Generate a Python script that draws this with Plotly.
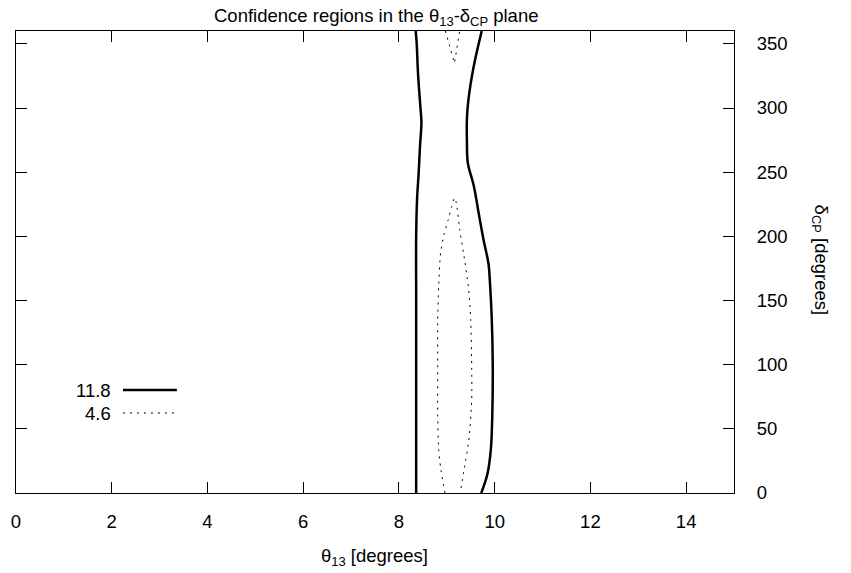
import plotly.graph_objects as go

# 11.8 contour (solid) - left and right boundaries
solid_left_delta = [0, 50, 100, 150, 200, 230, 248, 270, 289, 300, 326, 351, 360]
solid_left_theta = [8.36, 8.36, 8.36, 8.36, 8.36, 8.38, 8.41, 8.44, 8.47, 8.45, 8.40, 8.37, 8.35]
solid_right_delta = [0, 15, 34, 60, 100, 135, 165, 179, 195, 213, 240, 257, 275, 291, 306, 332, 360]
solid_right_theta = [9.72, 9.85, 9.92, 9.95, 9.96, 9.94, 9.90, 9.87, 9.78, 9.69, 9.56, 9.44, 9.42, 9.42, 9.45, 9.56, 9.73]

# 4.6 contour (dotted) - lower closed region and upper wedge
dot_low_theta = [8.96, 8.87, 8.83, 8.81, 8.81, 8.81, 8.83, 8.87, 8.94, 9.03, 9.10, 9.16, 9.20, 9.27, 9.35, 9.45, 9.50, 9.52, 9.52, 9.46, 9.37, 9.28]
dot_low_delta = [0, 20, 34, 60, 100, 135, 161, 187, 201, 213, 223, 230, 226, 205, 187, 161, 135, 100, 72, 41, 20, 0]
dot_up_theta = [8.97, 9.16, 9.27]
dot_up_delta = [360, 335, 360]

legend_labels = ["11.8", "4.6"]

FONT = "Liberation Sans, Arial, Helvetica, sans-serif"
FS = 18.5

fig = go.Figure()
fig.add_trace(go.Scatter(x=solid_left_theta, y=solid_left_delta, mode="lines",
                         line=dict(color="black", width=2.5, shape="spline"), showlegend=False))
fig.add_trace(go.Scatter(x=solid_right_theta, y=solid_right_delta, mode="lines",
                         line=dict(color="black", width=2.5, shape="spline"), showlegend=False))
fig.add_trace(go.Scatter(x=dot_low_theta, y=dot_low_delta, mode="lines",
                         line=dict(color="black", width=1, dash="2px,5px", shape="spline", smoothing=0.6),
                         showlegend=False))
fig.add_trace(go.Scatter(x=dot_up_theta, y=dot_up_delta, mode="lines",
                         line=dict(color="black", width=1, dash="2px,5px"), showlegend=False))

# plot-area geometry in pixels (for placing free text)
L, R, T, B = 16, 116.5, 31, 80
W, H = 851, 573
pw = W - L - R
ph = H - T - B


def px_x(p):
    return (p - L) / pw


def px_y(p):
    return (H - B - p) / ph


# gnuplot-style key: text then line sample
key_y = [390, 413]
styles = [dict(color="black", width=2.5), dict(color="black", width=1, dash="2px,5px")]
for lab, ky, st in zip(legend_labels, key_y, styles):
    fig.add_annotation(x=px_x(113), y=px_y(ky), xref="paper", yref="paper", text=lab, showarrow=False,
                       xanchor="right", yanchor="middle", font=dict(size=FS, color="black", family=FONT))
    fig.add_shape(type="line", xref="paper", yref="paper", x0=px_x(123), x1=px_x(177),
                  y0=px_y(ky), y1=px_y(ky), line=st)

axis_common = dict(showline=True, linecolor="black", linewidth=1, mirror="allticks",
                   ticks="inside", ticklen=11, tickcolor="black", tickwidth=1,
                   showgrid=False, zeroline=False, tickfont=dict(size=FS, color="black", family=FONT))

fig.update_xaxes(range=[0, 15], tick0=0, dtick=2, ticklabelstandoff=12, **axis_common)
fig.update_yaxes(range=[0, 360], tick0=0, dtick=50, side="right", ticklabelstandoff=18, **axis_common)

fig.add_annotation(x=px_x(375), y=px_y(557), xref="paper", yref="paper", yanchor="middle", showarrow=False,
                   text="θ<sub>13</sub> [degrees]", font=dict(size=FS, color="black", family=FONT))
fig.add_annotation(x=px_x(835), y=px_y(260), xref="paper", yref="paper", showarrow=False,
                   text="δ<sub>CP</sub> [degrees]", textangle=90,
                   font=dict(size=FS, color="black", family=FONT))
fig.add_annotation(x=px_x(376), y=px_y(17), xref="paper", yref="paper", showarrow=False,
                   yanchor="middle",
                   text="Confidence regions in the θ<sub>13</sub>-δ<sub>CP</sub> plane",
                   font=dict(size=FS, color="black", family=FONT))

fig.update_layout(width=W, height=H, margin=dict(l=L, r=R, t=T, b=B, autoexpand=False),
                  plot_bgcolor="white", paper_bgcolor="white", font=dict(family=FONT, size=FS))

fig.write_html("out.html", config={"displayModeBar": False},
               post_script="document.body.style.margin='0';")
